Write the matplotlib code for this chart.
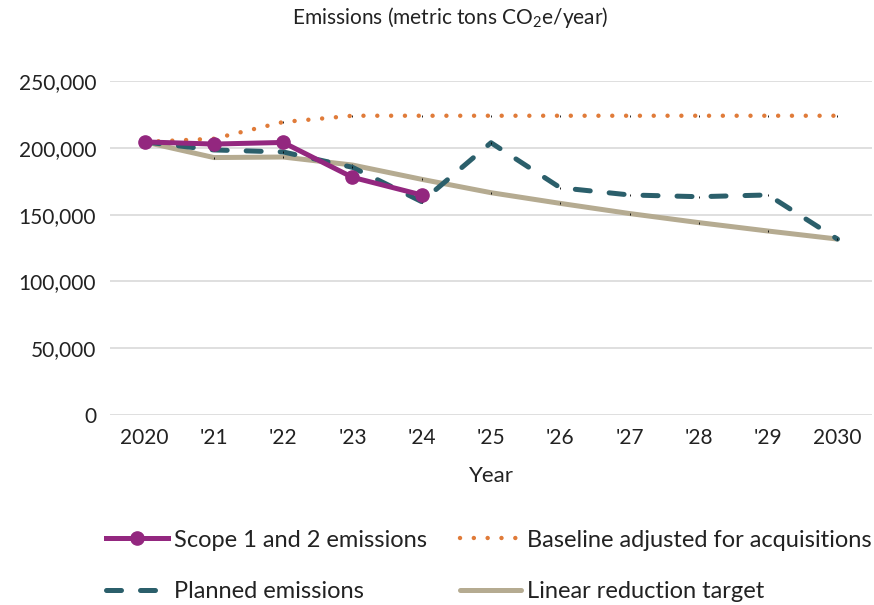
import matplotlib
matplotlib.use("Agg")
import matplotlib.pyplot as plt
from matplotlib.lines import Line2D
import numpy as np

plt.rcParams["font.family"] = ["Lato", "DejaVu Sans"]
plt.rcParams["mathtext.fontset"] = "custom"
plt.rcParams["mathtext.rm"] = "Lato"
plt.rcParams["mathtext.default"] = "regular"

years = ["2020", "'21", "'22", "'23", "'24", "'25", "'26", "'27", "'28", "'29", "2030"]
scope_1_2 = [204400, 202800, 204000, 177900, 164700]
baseline_adj = [204400, 206800, 219300, 224000, 224000, 224000, 224000, 224000, 224000, 224000, 224000]
planned = [204400, 198400, 196900, 185400, 159700, 203800, 170100, 164700, 163400, 164700, 131700]
linear_target = [204400, 192700, 193100, 187100, 176400, 166400, 158400, 150800, 144000, 137700, 131700]

PURPLE = "#93277F"
ORANGE = "#E07B39"
TEAL = "#2B5F6B"
TAN = "#B5AB91"
TXT = "#222222"

fig = plt.figure(figsize=(8.74, 6.05), dpi=100, facecolor="white")
ax = fig.add_axes([110 / 874, 1 - 415 / 605, 762 / 874, 334 / 605])

x = np.arange(len(years))
tick = dict(marker="|", markersize=2, markeredgecolor="black", markeredgewidth=0.6)

styles = {
    "target": dict(color=TAN, linewidth=3.6, solid_capstyle="round"),
    "planned": dict(color=TEAL, linewidth=3.6, linestyle=(0, (3.0, 3.8)), dash_capstyle="round"),
    "base": dict(color=ORANGE, linewidth=3.2, linestyle=(0, (0.01, 3.1)), dash_capstyle="round"),
    "scope": dict(color=PURPLE, linewidth=3.6, marker="o", markersize=9.5),
}

ax.plot(x, linear_target, zorder=2, **styles["target"], **tick)
ax.plot(x, planned, zorder=3, **styles["planned"], **tick)
ax.plot(x, baseline_adj, zorder=4, **styles["base"], **tick)
ax.plot(x[:len(scope_1_2)], scope_1_2, zorder=5, **styles["scope"])

ax.set_xlim(-0.5, len(years) - 0.5)
ax.set_ylim(0, 250000)
ax.set_yticks(np.arange(0, 250001, 50000))
ax.set_yticklabels([f"{v:,}" for v in range(0, 250001, 50000)])
ax.set_xticks(x)
ax.set_xticklabels(years)
ax.tick_params(axis="both", length=0, labelsize=15, colors=TXT)
ax.tick_params(axis="x", pad=9)
ax.tick_params(axis="y", pad=10)
ax.grid(axis="y", color="#D9D9D9", linewidth=1.2)
ax.set_axisbelow(True)
for s in ax.spines.values():
    s.set_visible(False)

ax.set_xlabel("Year", fontsize=16, color=TXT, labelpad=13)
fig.text(450 / 874, 1 - 18 / 605, "Emissions (metric tons CO$_2$e/year)",
         ha="center", va="center", fontsize=15, color=TXT)

handles = [
    Line2D([], [], **styles["scope"]),
    Line2D([], [], **styles["planned"]),
    Line2D([], [], **styles["base"]),
    Line2D([], [], **styles["target"]),
]
fig.legend(handles,
           ["Scope 1 and 2 emissions", "Planned emissions",
            "Baseline adjusted for acquisitions", "Linear reduction target"],
           ncol=2, loc="center", bbox_to_anchor=(489 / 874, 1 - 566 / 605),
           frameon=False, fontsize=17, labelcolor=TXT,
           handlelength=2.6, handletextpad=0.25, columnspacing=1.4, labelspacing=1.3,
           markerscale=1.0)

fig.savefig("out.png", dpi=100, facecolor="white")
